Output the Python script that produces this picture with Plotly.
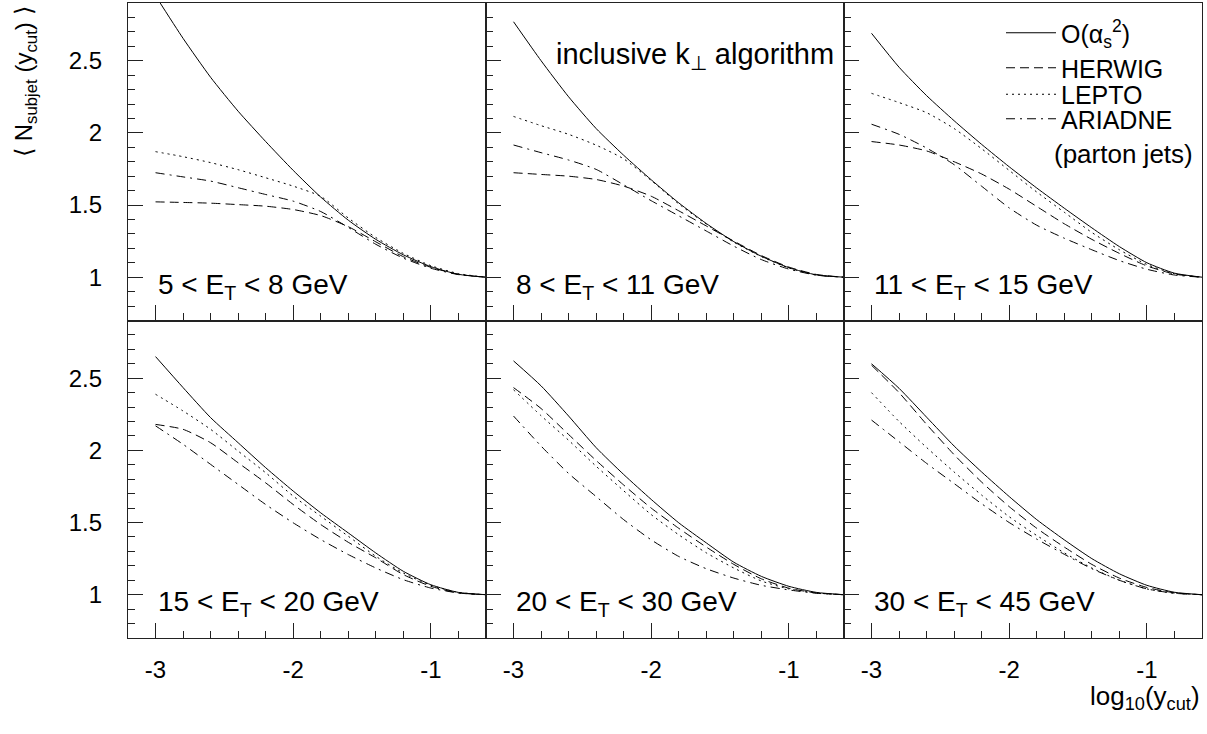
import plotly.graph_objects as go
from plotly.subplots import make_subplots

# ---------------- data ----------------
log_ycut = [-3.0, -2.8, -2.6, -2.4, -2.2, -2.0, -1.8, -1.6, -1.4, -1.2, -1.0, -0.8, -0.6]

x_tick_vals = [-3, -2, -1]
x_tick_text = ["-3", "-2", "-1"]
y_tick_vals = [1, 1.5, 2, 2.5]
y_tick_text = ["1", "1.5", "2", "2.5"]

panel_labels = [
    "5 < E<sub>T</sub> < 8 GeV",
    "8 < E<sub>T</sub> < 11 GeV",
    "11 < E<sub>T</sub> < 15 GeV",
    "15 < E<sub>T</sub> < 20 GeV",
    "20 < E<sub>T</sub> < 30 GeV",
    "30 < E<sub>T</sub> < 45 GeV",
]
model_names = ["O(α<sub>s</sub><sup>2</sup>)", "HERWIG", "LEPTO", "ARIADNE"]

# 5 < ET < 8
nlo_et5_8     = [2.95, 2.655, 2.385, 2.15, 1.94, 1.74, 1.555, 1.395, 1.262, 1.155, 1.073, 1.02, 1.0]
herwig_et5_8  = [1.522, 1.518, 1.513, 1.503, 1.492, 1.469, 1.427, 1.35, 1.245, 1.142, 1.068, 1.02, 1.0]
lepto_et5_8   = [1.87, 1.835, 1.794, 1.745, 1.689, 1.631, 1.56, 1.41, 1.275, 1.165, 1.08, 1.025, 1.0]
ariadne_et5_8 = [1.724, 1.695, 1.666, 1.62, 1.573, 1.527, 1.455, 1.345, 1.228, 1.132, 1.062, 1.018, 1.0]

# 8 < ET < 11
nlo_et8_11     = [2.77, 2.50, 2.25, 2.03, 1.845, 1.675, 1.515, 1.372, 1.246, 1.145, 1.066, 1.016, 1.0]
herwig_et8_11  = [1.724, 1.712, 1.70, 1.677, 1.631, 1.561, 1.46, 1.355, 1.25, 1.15, 1.07, 1.019, 1.0]
lepto_et8_11   = [2.114, 2.05, 1.99, 1.915, 1.82, 1.67, 1.508, 1.368, 1.243, 1.143, 1.064, 1.015, 1.0]
ariadne_et8_11 = [1.916, 1.863, 1.812, 1.747, 1.64, 1.53, 1.425, 1.32, 1.215, 1.122, 1.056, 1.014, 1.0]

# 11 < ET < 15
nlo_et11_15     = [2.69, 2.455, 2.258, 2.084, 1.92, 1.765, 1.618, 1.478, 1.342, 1.212, 1.10, 1.028, 1.0]
herwig_et11_15  = [1.94, 1.916, 1.875, 1.80, 1.715, 1.61, 1.49, 1.37, 1.262, 1.165, 1.078, 1.022, 1.0]
lepto_et11_15   = [2.274, 2.21, 2.14, 2.03, 1.89, 1.74, 1.59, 1.45, 1.31, 1.19, 1.088, 1.024, 1.0]
ariadne_et11_15 = [2.06, 1.99, 1.895, 1.78, 1.63, 1.48, 1.36, 1.27, 1.19, 1.115, 1.055, 1.015, 1.0]

# 15 < ET < 20
nlo_et15_20     = [2.65, 2.435, 2.227, 2.053, 1.88, 1.718, 1.567, 1.428, 1.289, 1.162, 1.069, 1.016, 1.0]
herwig_et15_20  = [2.18, 2.146, 2.053, 1.914, 1.775, 1.625, 1.486, 1.363, 1.255, 1.139, 1.058, 1.012, 1.0]
lepto_et15_20   = [2.389, 2.273, 2.146, 1.995, 1.845, 1.683, 1.544, 1.405, 1.266, 1.15, 1.065, 1.016, 1.0]
ariadne_et15_20 = [2.17, 2.042, 1.903, 1.764, 1.625, 1.498, 1.382, 1.278, 1.185, 1.104, 1.046, 1.012, 1.0]

# 20 < ET < 30
nlo_et20_30     = [2.62, 2.447, 2.238, 2.019, 1.833, 1.66, 1.498, 1.359, 1.225, 1.127, 1.058, 1.016, 1.0]
herwig_et20_30  = [2.435, 2.29, 2.11, 1.93, 1.76, 1.60, 1.46, 1.33, 1.21, 1.11, 1.045, 1.012, 1.0]
lepto_et20_30   = [2.42, 2.24, 2.07, 1.89, 1.72, 1.555, 1.415, 1.29, 1.185, 1.095, 1.04, 1.012, 1.0]
ariadne_et20_30 = [2.238, 2.03, 1.84, 1.68, 1.52, 1.38, 1.265, 1.18, 1.115, 1.065, 1.033, 1.01, 1.0]

# 30 < ET < 45
nlo_et30_45     = [2.60, 2.43, 2.23, 2.03, 1.85, 1.68, 1.52, 1.38, 1.25, 1.145, 1.065, 1.017, 1.0]
herwig_et30_45  = [2.59, 2.40, 2.18, 1.97, 1.78, 1.61, 1.46, 1.33, 1.21, 1.115, 1.05, 1.013, 1.0]
lepto_et30_45   = [2.40, 2.20, 2.02, 1.85, 1.69, 1.54, 1.41, 1.29, 1.185, 1.10, 1.04, 1.01, 1.0]
ariadne_et30_45 = [2.21, 2.06, 1.91, 1.77, 1.63, 1.50, 1.385, 1.28, 1.18, 1.10, 1.04, 1.01, 1.0]

panels = [
    (nlo_et5_8, herwig_et5_8, lepto_et5_8, ariadne_et5_8),
    (nlo_et8_11, herwig_et8_11, lepto_et8_11, ariadne_et8_11),
    (nlo_et11_15, herwig_et11_15, lepto_et11_15, ariadne_et11_15),
    (nlo_et15_20, herwig_et15_20, lepto_et15_20, ariadne_et15_20),
    (nlo_et20_30, herwig_et20_30, lepto_et20_30, ariadne_et20_30),
    (nlo_et30_45, herwig_et30_45, lepto_et30_45, ariadne_et30_45),
]

# ---------------- styles ----------------
FONT = "Liberation Sans, Arial, Helvetica, sans-serif"
dashes = ["solid", "9px,5px", "2px,4px", "9px,5px,2px,5px"]
legend_ids = ["legend", "legend2", "legend3", "legend4"]

W, H = 1207, 734
ML, MR, MT, MB = 128, 5, 3, 96
PW, PH = W - ML - MR, H - MT - MB


def px_x(px):
    return (px - ML) / PW


def px_y(py):
    return (H - MB - py) / PH


fig = make_subplots(rows=2, cols=3, horizontal_spacing=0, vertical_spacing=0)

for i, curves in enumerate(panels):
    r, c = i // 3 + 1, i % 3 + 1
    for k, ys in enumerate(curves):
        fig.add_trace(
            go.Scatter(
                x=log_ycut, y=ys, mode="lines",
                line=dict(color="black", width=1, dash=dashes[k], shape="spline", smoothing=0.6),
                name=model_names[k],
                showlegend=(i == 0),
                legend=legend_ids[k],
                hoverinfo="skip",
            ),
            row=r, col=c,
        )

axis_common = dict(
    showline=True, mirror=True, linecolor="#222222", linewidth=1.3,
    ticks="inside", tickcolor="#222222", tickwidth=1, ticklen=15,
    showgrid=False, zeroline=False, automargin=False,
    tickfont=dict(family=FONT, size=24, color="black"),
)

for i in range(6):
    r, c = i // 3 + 1, i % 3 + 1
    fig.update_xaxes(
        range=[-3.2, -0.6], tickvals=x_tick_vals, ticktext=x_tick_text,
        minor=dict(ticks="inside", ticklen=7, dtick=0.2, tick0=-3, tickcolor="#222222", tickwidth=1, showgrid=False),
        showticklabels=(r == 2), ticklabelstandoff=10,
        row=r, col=c, **axis_common,
    )
    fig.update_yaxes(
        range=[0.7, 2.9], tickvals=y_tick_vals, ticktext=y_tick_text,
        minor=dict(ticks="inside", ticklen=7, dtick=0.1, tick0=1, tickcolor="#222222", tickwidth=1, showgrid=False),
        showticklabels=(c == 1), ticklabelstandoff=20,
        row=r, col=c, **axis_common,
    )

annotations = []
# panel labels
for i, lab in enumerate(panel_labels):
    r, c = i // 3, i % 3
    left_px = 155.7 + 358 * c
    cap_mid_px = 286 + 317 * r
    annotations.append(dict(
        text=lab, xref="paper", yref="paper", x=px_x(left_px), y=px_y(cap_mid_px),
        xanchor="left", yanchor="middle", showarrow=False,
        font=dict(family=FONT, size=28, color="black"),
    ))

annotations.append(dict(
    text="inclusive k<sub>⊥</sub> algorithm", xref="paper", yref="paper",
    x=px_x(554), y=px_y(56), xanchor="left", yanchor="middle", showarrow=False,
    font=dict(family=FONT, size=29, color="black"),
))
annotations.append(dict(
    text="(parton jets)", xref="paper", yref="paper",
    x=px_x(1052), y=px_y(154), xanchor="left", yanchor="middle", showarrow=False,
    font=dict(family=FONT, size=26, color="black"),
))
annotations.append(dict(
    text="⟨ N<sub>subjet</sub> (y<sub>cut</sub>) ⟩", xref="paper", yref="paper",
    x=px_x(26), y=px_y(82), xanchor="center", yanchor="middle", textangle=-90, showarrow=False,
    font=dict(family=FONT, size=24, color="black"),
))
annotations.append(dict(
    text="log<sub>10</sub>(y<sub>cut</sub>)", xref="paper", yref="paper",
    x=px_x(1202), y=px_y(697), xanchor="right", yanchor="middle", showarrow=False,
    font=dict(family=FONT, size=26, color="black"),
))

legend_y_px = [33, 68, 94.5, 119]
legend_common = dict(
    xanchor="left", yanchor="middle", itemwidth=50, bgcolor="rgba(0,0,0,0)",
    font=dict(family=FONT, size=25, color="black"), borderwidth=0,
)

layout_legends = {}
for k, lid in enumerate(legend_ids):
    layout_legends[lid] = dict(x=px_x(1001), y=px_y(legend_y_px[k]), **legend_common)

fig.update_layout(
    width=W, height=H,
    margin=dict(l=ML, r=MR, t=MT, b=MB, autoexpand=False),
    paper_bgcolor="white", plot_bgcolor="white",
    annotations=annotations,
    showlegend=True,
    **layout_legends,
)

fig.write_html(
    "out.html",
    config={"responsive": False, "displayModeBar": False},
    post_script="document.body.style.margin='0';document.body.style.overflow='hidden';",
)
